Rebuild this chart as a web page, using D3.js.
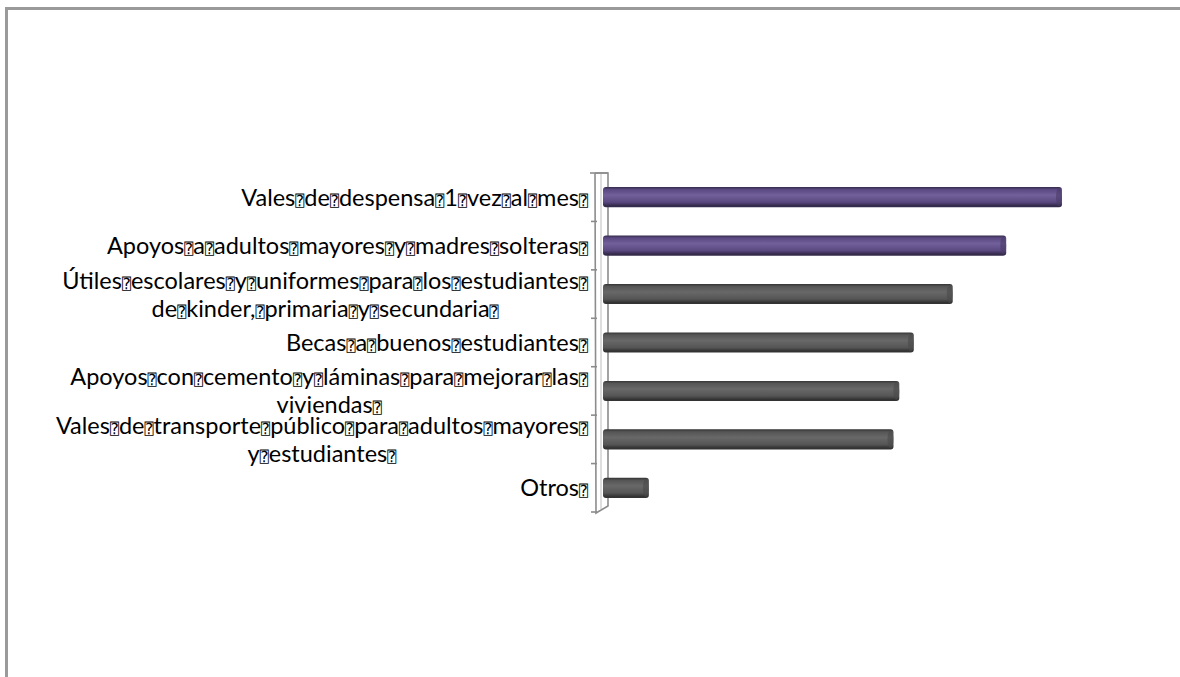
<!DOCTYPE html>
<html>
<head>
<meta charset="utf-8">
<script src="https://cdn.jsdelivr.net/npm/d3@7/dist/d3.min.js"></script>
<style>
  html, body { margin: 0; padding: 0; background: #ffffff; }
  svg { display: block; }
</style>
</head>
<body>
<svg id="chart" width="1180" height="677"></svg>
<script>
// ---- data ----
const categories = [
  "Vales⍰de⍰despensa⍰1⍰vez⍰al⍰mes⍰",
  "Apoyos⍰a⍰adultos⍰mayores⍰y⍰madres⍰solteras⍰",
  "Útiles⍰escolares⍰y⍰uniformes⍰para⍰los⍰estudiantes⍰\nde⍰kinder,⍰primaria⍰y⍰secundaria⍰",
  "Becas⍰a⍰buenos⍰estudiantes⍰",
  "Apoyos⍰con⍰cemento⍰y⍰láminas⍰para⍰mejorar⍰las⍰\nviviendas⍰",
  "Vales⍰de⍰transporte⍰público⍰para⍰adultos⍰mayores⍰\ny⍰estudiantes⍰",
  "Otros⍰"
];
const values = [79, 69.4, 60.2, 53.5, 51, 50, 7.9];
const highlighted = [true, true, false, false, false, false, false];

// ---- layout ----
const svg = d3.select("#chart");
const wallTop = 173, wallBottom = 512;
const x0 = 603;

const y = d3.scaleBand()
  .domain(categories)
  .range([wallTop, wallBottom])
  .paddingInner(0.585)
  .paddingOuter(0.29);

const x = d3.scaleLinear().domain([0, 100]).range([x0, x0 + 581]);

// outer frame
svg.append("line").attr("x1", 5).attr("x2", 1180).attr("y1", 8.5).attr("y2", 8.5)
  .attr("stroke", "#9a9a9a").attr("stroke-width", 3);
svg.append("line").attr("x1", 6.5).attr("x2", 6.5).attr("y1", 7).attr("y2", 677)
  .attr("stroke", "#9a9a9a").attr("stroke-width", 3);

// gradients
const defs = svg.append("defs");
function cyl(id, edge, main, light) {
  const g = defs.append("linearGradient").attr("id", id)
    .attr("x1", 0).attr("y1", 0).attr("x2", 0).attr("y2", 1);
  [[0, edge], [0.12, main], [0.4, light], [0.75, main], [0.92, edge], [1, edge]]
    .forEach(([o, c]) => g.append("stop").attr("offset", o).attr("stop-color", c));
}
cyl("gPurple", "#352b4c", "#5a4880", "#71609a");
cyl("gGray", "#333333", "#555555", "#686868");

// 3D wall
const wall = svg.append("g").attr("fill", "none").attr("stroke", "#8c8c8c");
wall.append("path")
  .attr("d", `M595,${wallTop} L608,${wallTop} L608,${wallBottom - 6} L596,${wallBottom + 1} L595,${wallTop}`)
  .attr("stroke-width", 1.6);
wall.append("line").attr("x1", 601).attr("x2", 601).attr("y1", wallTop + 1).attr("y2", wallBottom - 3)
  .attr("stroke", "#bdbdbd").attr("stroke-width", 1);
wall.append("line").attr("x1", 590).attr("x2", 608).attr("y1", wallTop).attr("y2", wallTop)
  .attr("stroke-width", 1.6);

// tick marks on the wall (category boundaries)
const bounds = d3.range(categories.length + 1).map(i => wallTop + i * (wallBottom - wallTop) / categories.length);
wall.selectAll("line.tick").data(bounds.slice(1)).join("line").attr("class", "tick")
  .attr("x1", 591).attr("x2", 597).attr("y1", d => d).attr("y2", d => d)
  .attr("stroke-width", 1.6);

// bars
const bars = svg.append("g");
const data = categories.map((c, i) => ({ c, v: values[i], hi: highlighted[i] }));
const bh = y.bandwidth();
bars.selectAll("rect.bar").data(data).join("rect").attr("class", "bar")
  .attr("x", x(0))
  .attr("y", d => y(d.c))
  .attr("width", d => x(d.v) - x(0))
  .attr("height", bh)
  .attr("rx", 3).attr("ry", 3)
  .attr("fill", d => d.hi ? "url(#gPurple)" : "url(#gGray)");
// end caps
bars.selectAll("ellipse.cap").data(data).join("ellipse").attr("class", "cap")
  .attr("cx", d => x(d.v) - 3)
  .attr("cy", d => y(d.c) + bh / 2)
  .attr("rx", 3).attr("ry", bh / 2 - 1)
  .attr("fill", d => d.hi ? "#4a3c68" : "#4a4a4a")
  .attr("opacity", 0.6);

// labels
const labels = svg.append("g")
  .attr("font-family", "Lato, 'Open Sans', sans-serif")
  .attr("font-size", 23.5)
  .attr("fill", "#000");
const labelRight = 588;
const lineH = 28;
data.forEach(d => {
  const lines = d.c.split("\n");
  const cy = y(d.c) + bh / 2;
  const texts = lines.map((ln, i) => {
    const t = labels.append("text")
      .attr("y", cy + 8.5 + (i - (lines.length - 1) / 2) * lineH)
      .attr("text-anchor", "middle");
    const parts = ln.split("⍰");
    parts.forEach((p, k) => {
      if (p.length) t.append("tspan").text(p);
      if (k < parts.length - 1) {
        t.append("tspan")
          .attr("font-family", "'DejaVu Sans Mono', 'DejaVu Sans', monospace")
          .attr("font-size", 15)
          .text("⍰");
      }
    });
    return t;
  });
  const widths = texts.map(t => t.node().getComputedTextLength());
  const wmax = d3.max(widths);
  const cx = labelRight - wmax / 2;
  texts.forEach(t => t.attr("x", cx));
});
</script>
</body>
</html>
